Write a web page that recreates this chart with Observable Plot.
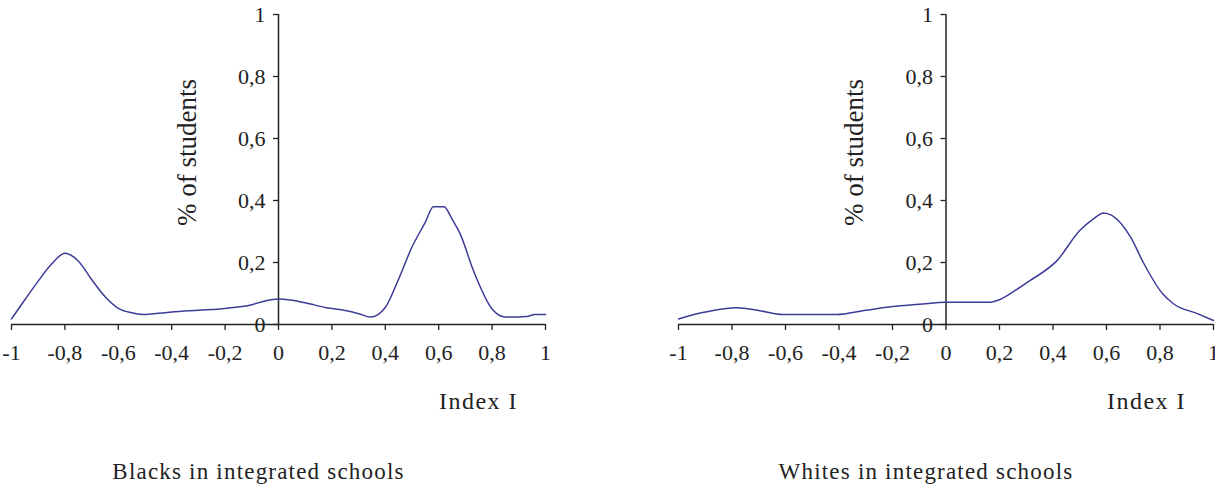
<!DOCTYPE html>
<html><head><meta charset="utf-8">
<script src="https://cdn.jsdelivr.net/npm/d3@7"></script>
<script src="https://cdn.jsdelivr.net/npm/@observablehq/plot@0.6"></script>
<style>
body{margin:0;background:#fff;}
#wrap{display:flex;width:1215px;height:492px;overflow:hidden;}
#wrap svg{overflow:visible;}
#wrap svg text{font-family:'Liberation Serif','Times New Roman',serif;}
</style></head><body><div id="wrap"></div>
<script>
// Blacks in integrated schools
const blacksIndex = [-1,-0.95,-0.9,-0.85,-0.8,-0.75,-0.7,-0.65,-0.6,-0.55,-0.5,-0.45,-0.4,-0.3,-0.2,-0.1,-0.05,0,0.05,0.1,0.18,0.25,0.3,0.345,0.4,0.45,0.5,0.55,0.58,0.62,0.65,0.68,0.73,0.8,0.85,0.93,0.96,1];
const blacksShare = [0.018,0.08,0.14,0.195,0.23,0.205,0.145,0.09,0.052,0.038,0.032,0.036,0.04,0.046,0.052,0.064,0.076,0.082,0.078,0.07,0.054,0.045,0.035,0.024,0.055,0.147,0.25,0.33,0.38,0.38,0.34,0.293,0.174,0.05,0.024,0.026,0.032,0.032];
// Whites in integrated schools
const whitesIndex = [-1,-0.9,-0.78,-0.7,-0.61,-0.5,-0.41,-0.3,-0.2,-0.1,0,0.1,0.165,0.2,0.25,0.315,0.415,0.5,0.55,0.59,0.62,0.69,0.74,0.81,0.85,0.94,1];
const whitesShare = [0.018,0.04,0.054,0.045,0.032,0.032,0.032,0.046,0.058,0.065,0.072,0.072,0.072,0.08,0.105,0.142,0.206,0.303,0.34,0.36,0.352,0.282,0.196,0.099,0.067,0.035,0.013];

const xTicks = [-1,-0.8,-0.6,-0.4,-0.2,0,0.2,0.4,0.6,0.8,1];
const xTickLabels = ["-1","-0,8","-0,6","-0,4","-0,2","0","0,2","0,4","0,6","0,8","1"];
const yTicks = [0,0.2,0.4,0.6,0.8,1];
const yTickLabels = ["0","0,2","0,4","0,6","0,8","1"];
const panelTitles = ["Blacks in integrated schools","Whites in integrated schools"];
const xAxisTitle = "Index I";
const yAxisTitle = "% of students";

const FONT = "'Liberation Serif','Times New Roman',serif";
const LINE = "#3c3c98";
const AXIS = "#222";

function panel(xs, ys, title, width, ml, mr) {
  const data = xs.map((x, i) => ({x, y: ys[i]}));
  const innerW = width - ml - mr;
  const half = innerW / 2;
  const svg = Plot.plot({
    width, height: 492,
    marginLeft: ml, marginRight: mr, marginTop: 14, marginBottom: 168,
    style: {fontFamily: FONT, color: AXIS, background: "#fff"},
    x: {domain: [-1, 1]},
    y: {domain: [0, 1]},
    marks: [
      Plot.axisX({ticks: xTicks, tickFormat: d => xTickLabels[xTicks.indexOf(d)], anchor: "bottom",
        tickSize: 6, tickPadding: 14, fontSize: 22, fontFamily: FONT, stroke: AXIS, strokeWidth: 1.3, label: null}),
      Plot.axisY({ticks: yTicks, tickFormat: d => yTickLabels[yTicks.indexOf(d)], anchor: "left",
        dx: half, tickSize: 5, tickPadding: 8, fontSize: 22, fontFamily: FONT, stroke: AXIS, strokeWidth: 1.3, label: null}),
      Plot.ruleY([0], {stroke: AXIS, strokeWidth: 1.5}),
      Plot.ruleX([0], {y1: 0, y2: 1, stroke: AXIS, strokeWidth: 1.5}),
      Plot.line(data, {x: "x", y: "y", stroke: LINE, strokeWidth: 1.5, curve: "monotone-x"}),
      Plot.text([yAxisTitle], {frameAnchor: "top", rotate: -90, dx: -102, dy: 138, fontSize: 27, fill: AXIS, fontFamily: FONT}),
      Plot.text([xAxisTitle], {frameAnchor: "bottom-right", textAnchor: "middle", dx: -67, dy: 84, fontSize: 24, fill: AXIS, fontFamily: FONT}),
      Plot.text([title], {frameAnchor: "bottom", textAnchor: "middle", dx: -20, dy: 154, fontSize: 23, fill: AXIS, fontFamily: FONT})
    ]
  });
  svg.querySelectorAll("text").forEach(t => {
    if (t.textContent === title) t.style.letterSpacing = "1.2px";
    else if (t.textContent === xAxisTitle) t.style.letterSpacing = "1.5px";
  });
  return svg;
}

const wrap = document.getElementById("wrap");
wrap.append(panel(blacksIndex, blacksShare, panelTitles[0], 608, 11, 63));
wrap.append(panel(whitesIndex, whitesShare, panelTitles[1], 607, 70, 2));
</script></body></html>
